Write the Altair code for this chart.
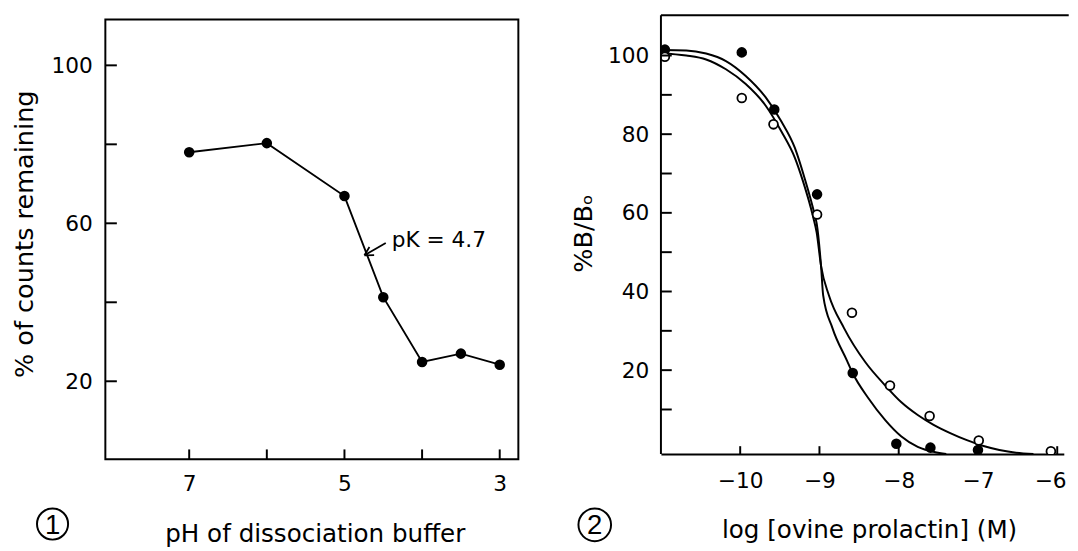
import altair as alt
import pandas as pd

FONT = "DejaVu Sans"

# ---------------- Panel 1: % of counts remaining vs pH ----------------
ph = [7, 6, 5, 4.5, 4, 3.5, 3]
counts = [78.0, 80.3, 66.9, 41.3, 24.9, 27.0, 24.2]
left_x_labels = [7, 5, 3]
left_x_ticks = [7, 6, 5, 4, 3]
left_y_labels = [20, 60, 100]
left_y_ticks = [20, 40, 60, 80, 100]
pk_label = ["pK = 4.7"]
pk_text_x = [4.39]
pk_text_y = [53.9]
arrow_tail_x = [4.468]
arrow_tail_y = [55.0]
arrow_tip_x = [4.743]
arrow_tip_y = [51.9]

# ---------------- Panel 2: %B/Bo vs log [ovine prolactin] ----------------
filled_x = [-10.95, -9.98, -9.57, -9.03, -8.58, -8.03, -7.6, -7.0]
filled_y = [101.5, 100.8, 86.3, 64.7, 19.3, 1.3, 0.3, -0.3]
open_x = [-10.95, -9.98, -9.58, -9.03, -8.59, -8.11, -7.61, -6.99, -6.08]
open_y = [99.7, 89.2, 82.5, 59.6, 34.6, 16.1, 8.35, 2.1, -0.6]

curveA_x = [-11.0, -10.68, -10.43, -10.18, -9.93, -9.68, -9.48, -9.31, -9.19,
            -9.06, -9.035, -8.98, -8.953, -8.836, -8.65, -8.59, -8.38, -8.17,
            -7.97, -7.76, -7.55, -7.4]
curveA_y = [101.4, 101.3, 100.5, 98.6, 94.8, 89.4, 83.2, 76.5, 69.0,
            59.5, 57.3, 46.5, 39.0, 30.7, 22.3, 19.6, 12.8, 7.3,
            3.2, 0.5, -0.8, -1.3]
curveB_x = [-11.0, -10.68, -10.43, -10.18, -9.93, -9.68, -9.48, -9.31, -9.21,
            -9.08, -9.035, -8.98, -8.88, -8.69, -8.42, -8.17, -7.97, -7.76,
            -7.56, -7.35, -7.14, -6.93, -6.73, -6.52, -6.3]
curveB_y = [100.6, 100.0, 99.0, 96.5, 92.75, 87.3, 80.7, 74.0, 68.2,
            59.0, 55.0, 46.5, 39.0, 30.7, 22.0, 16.1, 11.9, 8.6,
            6.1, 4.0, 2.2, 0.7, -0.3, -1.0, -1.3]
right_x_labels = [-10, -9, -8, -7, -6]
right_y_labels = [20, 40, 60, 80, 100]
right_y_ticks = [10, 20, 30, 40, 50, 60, 70, 80, 90, 100]

# ---------------- layout constants ----------------
W1, H1 = 420, 447.3
W2, H2 = 409.7, 442

xs1 = alt.Scale(domain=[2.76, 8.08], reverse=True, nice=False, zero=False)
ys1 = alt.Scale(domain=[0.25, 111.63], nice=False, zero=False)
xs2 = alt.Scale(domain=[-11.0, -5.917], nice=False, zero=False)
ys2 = alt.Scale(domain=[-1.33, 109.18], nice=False, zero=False)

AX = dict(labelFont=FONT, labelFontSize=22, labelColor="black", grid=False,
          titleFont=FONT, titleColor="black", titleFontWeight="normal")

x1_axis = alt.Axis(values=left_x_labels, ticks=False, domain=False, labelPadding=14.7,
                   title="pH of dissociation buffer", titleFontSize=25,
                   titleX=213, titleY=83.4, titleBaseline="alphabetic", titleAlign="center", **AX)
y1_axis = alt.Axis(values=left_y_labels, ticks=False, domain=False, labelPadding=13.3,
                   title="% of counts remaining", titleFontSize=26, titleAngle=270,
                   titleX=-74, titleY=218, titleBaseline="alphabetic", titleAlign="center", **AX)


def X1(f):
    return alt.X(f, scale=xs1, axis=x1_axis)


def Y1(f):
    return alt.Y(f, scale=ys1, axis=y1_axis)


df1 = pd.DataFrame({"ph": ph, "counts": counts})

line1 = alt.Chart(df1).mark_line(color="black", strokeWidth=1.9).encode(
    x=X1("ph:Q"), y=Y1("counts:Q"))
pts1 = alt.Chart(df1).mark_point(filled=True, color="black", opacity=1, size=115).encode(
    x=X1("ph:Q"), y=Y1("counts:Q"))
ytick1 = alt.Chart(pd.DataFrame({"t": left_y_ticks})).mark_rule(color="black", strokeWidth=2).encode(
    y=Y1("t:Q"), x=alt.value(0), x2=alt.value(11.7))
xtick1 = alt.Chart(pd.DataFrame({"t": left_x_ticks})).mark_rule(color="black", strokeWidth=2).encode(
    x=X1("t:Q"), y=alt.value(H1), y2=alt.value(H1 - 10))

ann_df = pd.DataFrame({"x": pk_text_x, "y": pk_text_y, "label": pk_label})
ann_text = alt.Chart(ann_df).mark_text(align="left", baseline="alphabetic", fontSize=22,
                                       font=FONT, color="black").encode(
    x=X1("x:Q"), y=Y1("y:Q"), text="label:N")
arr_df = pd.DataFrame({"x": arrow_tail_x, "y": arrow_tail_y, "x2": arrow_tip_x, "y2": arrow_tip_y})
arr_line = alt.Chart(arr_df).mark_rule(color="black", strokeWidth=1.8).encode(
    x=X1("x:Q"), y=Y1("y:Q"), x2="x2:Q", y2="y2:Q")
arr_head = alt.Chart(arr_df).mark_point(shape="M0,0L1,-0.55M0,0L1,0.55", angle=330, size=300,
                                        filled=False, color="black", opacity=1, strokeWidth=1.8).encode(
    x=X1("x2:Q"), y=Y1("y2:Q"))

circ1 = alt.Chart(pd.DataFrame({"n": ["1"]})).mark_point(shape="circle", size=1000, filled=False,
                                                         color="black", opacity=1, strokeWidth=2).encode(
    x=alt.value(-53.7), y=alt.value(513.2))
num1 = alt.Chart(pd.DataFrame({"n": ["1"]})).mark_text(fontSize=28, font="Liberation Sans",
                                                       color="black", baseline="middle", align="center").encode(
    x=alt.value(-53.7), y=alt.value(514.8), text="n:N")

left = alt.layer(line1, pts1, ytick1, xtick1, arr_line, arr_head, ann_text, circ1, num1).properties(
    width=W1, height=H1, view=alt.ViewBackground(stroke="black", strokeWidth=2))

# ---------------- right panel ----------------
x2_axis = alt.Axis(values=right_x_labels, ticks=False, domain=True, domainColor="black", domainWidth=2,
                   labelPadding=17.4, labelFlush=8, labelFlushOffset=9,
                   title="log [ovine prolactin] (M)", titleFontSize=25,
                   titleX=211.7, titleY=85.3, titleBaseline="alphabetic", titleAlign="center", **AX)
y2_axis = alt.Axis(values=right_y_labels, ticks=False, domain=False, labelPadding=12.3,
                   title="%B/Bₒ", titleFontSize=26, titleAngle=270,
                   titleX=-70.2, titleY=217.3, titleBaseline="alphabetic", titleAlign="center", **AX)


def X2(f):
    return alt.X(f, scale=xs2, axis=x2_axis)


def Y2(f):
    return alt.Y(f, scale=ys2, axis=y2_axis)


dfA = pd.DataFrame({"x": curveA_x, "y": curveA_y})
dfB = pd.DataFrame({"x": curveB_x, "y": curveB_y})
dfF = pd.DataFrame({"x": filled_x, "y": filled_y})
dfO = pd.DataFrame({"x": open_x, "y": open_y})

curveA = alt.Chart(dfA).mark_line(color="black", strokeWidth=2, interpolate="monotone").encode(
    x=X2("x:Q"), y=Y2("y:Q"))
curveB = alt.Chart(dfB).mark_line(color="black", strokeWidth=2, interpolate="monotone").encode(
    x=X2("x:Q"), y=Y2("y:Q"))
ptsF = alt.Chart(dfF).mark_point(filled=True, color="black", opacity=1, size=115, clip=True).encode(
    x=X2("x:Q"), y=Y2("y:Q"))
ptsO = alt.Chart(dfO).mark_point(filled=True, fill="white", stroke="black", strokeWidth=1.8,
                                 opacity=1, size=80, clip=True).encode(
    x=X2("x:Q"), y=Y2("y:Q"))
ytick2 = alt.Chart(pd.DataFrame({"t": right_y_ticks})).mark_rule(color="black", strokeWidth=2).encode(
    y=Y2("t:Q"), x=alt.value(0), x2=alt.value(11))
xtick2 = alt.Chart(pd.DataFrame({"t": right_x_labels})).mark_rule(color="black", strokeWidth=2).encode(
    x=X2("t:Q"), y=alt.value(H2), y2=alt.value(H2 - 8))
top2 = alt.Chart(pd.DataFrame({"n": [0]})).mark_rule(color="black", strokeWidth=2).encode(
    x=alt.value(0), x2=alt.value(W2 + 5), y=alt.value(-4.3))
leftline2 = alt.Chart(pd.DataFrame({"n": [0]})).mark_rule(color="black", strokeWidth=2).encode(
    x=alt.value(0), y=alt.value(-4.3), y2=alt.value(H2))
circ2 = alt.Chart(pd.DataFrame({"n": ["2"]})).mark_point(shape="circle", size=1100, filled=False,
                                                         color="black", opacity=1, strokeWidth=2).encode(
    x=alt.value(-67.3), y=alt.value(514))
num2 = alt.Chart(pd.DataFrame({"n": ["2"]})).mark_text(fontSize=28, font="Liberation Sans",
                                                       color="black", baseline="middle", align="center").encode(
    x=alt.value(-67.3), y=alt.value(515.6), text="n:N")

right = alt.layer(curveA, curveB, ptsF, ptsO, ytick2, xtick2, top2, leftline2, circ2, num2).properties(
    width=W2, height=H2, view=alt.ViewBackground(strokeOpacity=0))

chart = alt.hconcat(left, right, spacing=52).properties(
    padding={"left": 3, "top": 1, "right": 0, "bottom": 0}
).configure_view(strokeWidth=0)

chart.save("out.html", embed_options={"renderer": "svg", "actions": False})
